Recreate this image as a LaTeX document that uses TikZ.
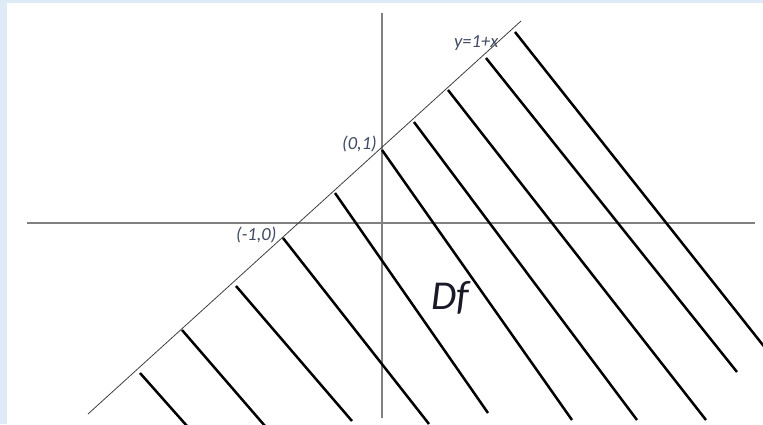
\documentclass[tikz,border=0pt]{standalone}
\usepackage{fontspec}
\setmainfont{Carlito}
\definecolor{framebg}{RGB}{222,234,246}
\definecolor{axisgray}{RGB}{128,128,128}
\definecolor{labelcol}{RGB}{65,75,100}
\definecolor{dfcol}{RGB}{25,25,40}
\tikzset{
  axisline/.style={draw=axisgray, line width=1.4pt},
  boundline/.style={draw=black!75, line width=0.8pt},
  hatchline/.style={draw=black, line width=2.5pt},
  smalllabel/.style={inner sep=0pt, text=labelcol, font=\fontsize{18.5}{21}\selectfont\itshape},
  biglabel/.style={inner sep=0pt, text=dfcol, font=\fontsize{41}{46}\selectfont\itshape}
}
\begin{document}
\begin{tikzpicture}[x=1pt,y=-1pt]
\useasboundingbox (0,0) rectangle (763,424);
\fill[framebg] (0,0) rectangle (763,424);
\fill[white] (7,3) rectangle (763,424);
\begin{scope}
\clip (7,3) rectangle (763,424);
% axes
\coordinate (xl) at (27,223);
\coordinate (xr) at (755,223);
\coordinate (yt) at (382,13);
\coordinate (yb) at (382,418);
\draw[axisline] (xl) -- (xr);
\draw[axisline] (yt) -- (yb);
% boundary y = 1 + x
\coordinate (bl) at (88,414);
\coordinate (bu) at (521,21);
\draw[boundline] (bl) -- (bu);
% hatching
\foreach \sx/\sy/\ex/\ey in {140/373/187/426, 182/330/265/426, 236/286/352/421,
  283/238/429/424, 335/193/488/413, 382/150/572/420, 414/122/637/420,
  448/90/706/420, 486/58/737/372, 515/32/770/354}{
  \draw[hatchline] (\sx,\sy) -- (\ex,\ey);
}
\end{scope}
% labels
\node[smalllabel, anchor=base west] (l01) at (342,149) {(0,1)};
\node[smalllabel, anchor=base west] (lm10) at (236,240) {(-1,0)};
\node[smalllabel, anchor=base west] (leq) at (454,47) {y=1+x};
\node[biglabel, anchor=base west] (df) at (431,309) {Df};
\end{tikzpicture}
\end{document}
